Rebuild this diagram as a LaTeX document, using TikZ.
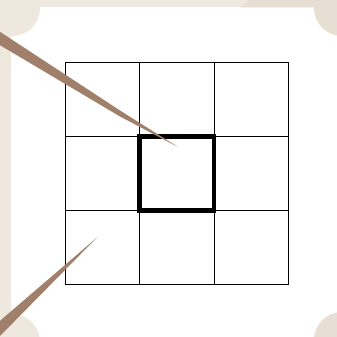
\documentclass[tikz,border=0pt]{standalone}
\definecolor{beigeL}{HTML}{EEE8DF}
\definecolor{beigeD}{HTML}{E7DFD3}
\definecolor{wedge}{HTML}{A0806A}
\tikzset{
  gridline/.style={draw=black, line width=0.8pt},
  boldsq/.style={draw=black, line width=4.6pt},
  wedgefill/.style={fill=wedge, draw=none}
}
\begin{document}
\begin{tikzpicture}[x=1pt,y=-1pt]
\useasboundingbox (0,0) rectangle (337,337);
\begin{scope}
\clip (0,0) rectangle (337,337);
\fill[white] (0,0) rectangle (337,337);
% frame strips
\fill[beigeL] (0,0) rectangle (337,7.5);
\fill[beigeL] (0,0) rectangle (11,337);
\fill[beigeD] (250,0) -- (337,0) -- (337,7.5) -- (240,7.5) -- cycle;
% corner circles
\fill[beigeL] (12,8) circle (28);
\fill[beigeD] (342,8) circle (28);
\fill[beigeL] (12,342) circle (28);
\fill[beigeD] (342,340) circle (28);
% grid
\foreach \v in {65,139.5,214,288} {
  \draw[gridline] (\v,62) -- (\v,284.5);
}
\foreach \v in {62,136.5,210.5,284.5} {
  \draw[gridline] (65,\v) -- (288,\v);
}
\draw[boldsq] (139.5,136.5) rectangle (214,210.5);
% wedges
\fill[wedgefill] (-2,30.5) -- (120,110.5) -- (178,147) -- (120,116.5) -- (-2,44) -- cycle;
\fill[wedgefill] (-2,322.5) -- (97,237.5) -- (-2,338) -- cycle;
\end{scope}
\end{tikzpicture}
\end{document}
